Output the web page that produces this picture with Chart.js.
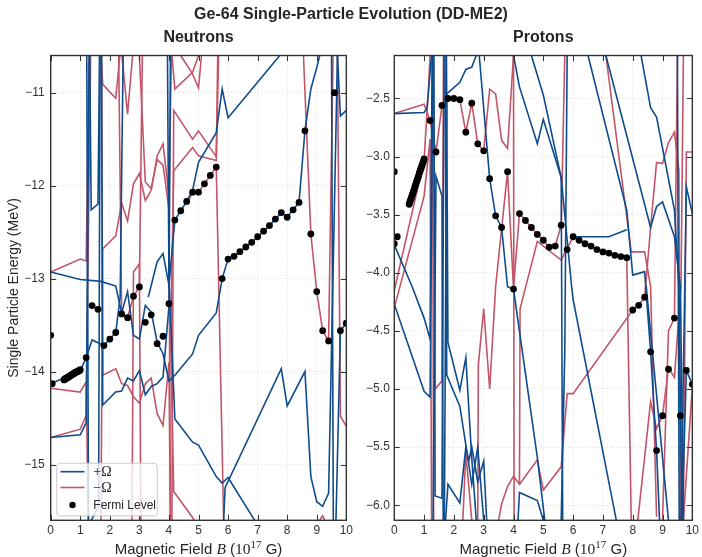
<!DOCTYPE html>
<html>
<head>
<meta charset="utf-8">
<script src="https://cdn.jsdelivr.net/npm/chart.js@4.4.1/dist/chart.umd.min.js"></script>
<style>
  html, body { margin: 0; padding: 0; background: #fff; }
  #wrap { position: relative; width: 702px; height: 557px; overflow: hidden; }
  #suptitle { position: absolute; left: 0; top: 5px; width: 702px; text-align: center;
              font: bold 16px "Liberation Sans", Arial, sans-serif; color: #262626; }
  #cn { position: absolute; left: 0; top: 0; }
  #cp { position: absolute; left: 356px; top: 0; }
</style>
</head>
<body>
<div id="wrap">
  <canvas id="cn" width="356" height="557"></canvas>
  <canvas id="cp" width="346" height="557"></canvas>
  <div id="suptitle">Ge-64 Single-Particle Evolution (DD-ME2)</div>
</div>
<script>
// ---------------- axes ----------------
const bTicks = [0, 1, 2, 3, 4, 5, 6, 7, 8, 9, 10];
const neutronTicks = [-15, -14, -13, -12, -11];
const protonTicks = [-6.0, -5.5, -5.0, -4.5, -4.0, -3.5, -3.0, -2.5];
const neutronRange = [-15.6, -10.6];
const protonRange = [-6.13, -2.13];

// ---------------- Fermi level (MeV) ----------------
const fermiNeutronB = [0, 0.05,
  0.45, 0.475, 0.5, 0.525, 0.55, 0.575, 0.6, 0.625, 0.65, 0.675, 0.7, 0.725, 0.75, 0.775, 0.8,
  0.825, 0.85, 0.875, 0.9, 0.925, 0.95, 0.975, 1.0,
  1.2, 1.4, 1.6, 1.8, 2.0, 2.2, 2.4, 2.6, 2.8, 3.0, 3.2, 3.4, 3.6, 3.8, 4.0, 4.2, 4.4, 4.6, 4.8,
  5.0, 5.2, 5.4, 5.6, 5.8, 6.0, 6.2, 6.4, 6.6, 6.8, 7.0, 7.2, 7.4, 7.6, 7.8, 8.0, 8.2, 8.4, 8.6,
  8.8, 9.0, 9.2, 9.4, 9.6, 9.8, 10.0];
const fermiNeutronE = [-13.61, -14.13,
  -14.09, -14.08, -14.08, -14.07, -14.07, -14.06, -14.06, -14.05, -14.05, -14.04, -14.04, -14.03,
  -14.03, -14.02, -14.02, -14.01, -14.01, -14.00, -14.00, -14.00, -13.99, -13.99, -13.98,
  -13.85, -13.29, -13.33, -13.72, -13.65, -13.58, -13.38, -13.42, -13.19, -13.09, -13.47, -13.39,
  -13.70, -13.62, -13.27, -12.37, -12.27, -12.17, -12.07, -12.07, -11.98, -11.89, -11.80, -13.00,
  -12.79, -12.76, -12.71, -12.66, -12.61, -12.55, -12.49, -12.43, -12.36, -12.29, -12.34, -12.26,
  -12.18, -11.41, -12.52, -13.14, -13.56, -13.67, -11.00, -13.56, -13.48];

const fermiProtonB = [0, 0, 0.1,
  0.5, 0.52, 0.54, 0.56, 0.58, 0.6, 0.62, 0.64, 0.66, 0.68, 0.7, 0.72, 0.74, 0.76, 0.78, 0.8,
  0.82, 0.84, 0.86, 0.88, 0.9, 0.92, 0.94, 0.96, 0.98, 1.0,
  1.2, 1.4, 1.6, 1.8, 2.0, 2.2, 2.4, 2.6, 2.8, 3.0, 3.2, 3.4, 3.6, 3.8, 4.0, 4.2, 4.4, 4.6, 4.8,
  5.0, 5.2, 5.4, 5.6, 5.8, 6.0, 6.2, 6.4, 6.6, 6.8, 7.0, 7.2, 7.4, 7.6, 7.8, 8.0, 8.2, 8.4, 8.6,
  8.8, 9.0, 9.2, 9.4, 9.6, 9.8, 10.0];
const fermiProtonE = [-3.13, -3.75, -3.69,
  -3.41, -3.39, -3.38, -3.36, -3.35, -3.33, -3.32, -3.30, -3.29, -3.27, -3.25, -3.24, -3.22, -3.21,
  -3.19, -3.18, -3.16, -3.14, -3.13, -3.11, -3.10, -3.08, -3.07, -3.05, -3.04, -3.02,
  -2.69, -2.96, -2.56, -2.50, -2.50, -2.51, -2.79, -2.54, -2.89, -2.95, -3.19,
  -3.51, -3.61, -3.13, -4.14, -3.49, -3.55, -3.61, -3.67, -3.72, -3.78, -3.77, -3.59, -3.80, -3.69,
  -3.72, -3.75, -3.77, -3.80, -3.82, -3.83, -3.85, -3.86, -3.87, -4.32, -4.28, -4.21, -4.68, -5.53,
  -5.23, -4.83, -4.39, -5.23, -4.84, -4.96];

// ---------------- neutron levels, +Omega  [B, E] ----------------
const nPlus1 = [[1.22, -10.6], [1.28, -15.6]];
const nPlus2 = [[0, -14.13], [1.0, -13.99], [1.2, -13.85], [1.4, -13.66], [1.8, -13.72], [2.0, -13.65], [2.2, -13.58], [2.35, -13.2], [2.45, -10.6]];
const nPlus3 = [[0, -14.71], [1.0, -14.68], [1.2, -14.55], [1.3, -10.6]];
const nPlus4 = [[1.32, -10.6], [1.37, -12.26], [1.6, -12.2], [1.65, -10.6]];
const nPlus5 = [[1.37, -15.6], [1.62, -15.45], [1.67, -10.6]];
const nPlus6 = [[1.72, -10.6], [1.76, -14.36], [2.2, -14.22], [2.4, -14.21], [2.6, -14.07], [2.8, -14.1], [3.0, -13.99], [3.2, -14.25], [3.4, -14.16], [3.6, -14.13], [3.8, -14.06], [4.0, -13.3], [4.05, -10.6]];
const nPlus7 = [[0, -12.93], [1.0, -13.01], [1.7, -13.03], [2.2, -13.08], [2.4, -13.37], [2.6, -13.14], [2.8, -13.61], [3.0, -13.65], [3.2, -13.29], [3.4, -13.36], [3.6, -13.68], [3.8, -13.81], [4.0, -14.1], [4.2, -14.04], [4.8, -13.81], [5.0, -13.61], [5.6, -13.37], [5.8, -13.00], [6.0, -12.79], [6.2, -12.76], [6.4, -12.71], [6.6, -12.66], [6.8, -12.61], [7.0, -12.55], [7.2, -12.49], [7.4, -12.43], [7.6, -12.36], [7.8, -12.29], [8.0, -12.34], [8.2, -12.26], [8.4, -12.18], [8.6, -11.41], [8.8, -10.96], [9.0, -10.73], [9.1, -10.6]];
const nPlus8 = [[3.3, -13.2], [3.6, -12.82], [3.8, -12.73], [4.0, -13.07], [4.2, -12.37], [4.4, -12.27], [4.6, -12.17], [4.8, -12.05], [5.0, -11.75], [5.6, -11.43], [5.8, -10.96], [6.0, -11.27], [7.75, -10.6]];
const nPlus9 = [[3.95, -10.6], [4.0, -13.0], [4.2, -14.51], [4.8, -14.76], [5.0, -14.79], [5.6, -15.13], [5.8, -15.2], [6.0, -15.14], [6.9, -15.6]];
const nPlus10 = [[5.85, -15.6], [5.9, -15.25], [7.8, -13.97], [8.0, -14.37], [8.6, -14.0], [8.8, -15.13], [9.0, -15.4], [9.2, -15.45], [9.4, -15.31], [9.7, -10.6]];
const nPlus11 = [[9.65, -15.6], [9.8, -13.56], [10.0, -13.48]];
const nPlus12 = [[9.7, -10.6], [9.8, -11.25], [10.0, -11.19]];
const nPlus13 = [[9.5, -10.6], [9.56, -15.6]];

// ---------------- neutron levels, -Omega ----------------
const nMinus1 = [[0, -12.93], [1.0, -12.79], [1.2, -12.81], [1.3, -10.6]];
const nMinus2 = [[0, -14.18], [1.0, -14.22], [1.2, -14.11], [1.27, -15.6]];
const nMinus3 = [[0, -14.71], [1.0, -14.62], [1.2, -14.47], [1.35, -10.6]];
const nMinus4 = [[1.7, -15.6], [1.76, -12.68], [2.2, -12.54], [2.4, -12.19], [2.6, -12.38], [2.8, -11.98], [3.0, -11.87], [3.2, -12.16], [3.4, -12.05], [3.6, -11.68], [3.8, -11.55], [4.0, -12.1], [4.05, -15.6]];
const nMinus5 = [[1.7, -10.6], [1.76, -10.91], [2.2, -11.06], [2.34, -10.6]];
const nMinus6 = [[2.41, -10.6], [2.6, -11.23], [2.77, -10.6]];
const nMinus7 = [[3.0, -10.6], [3.2, -11.96], [3.4, -12.03], [3.6, -11.72], [3.8, -11.78], [4.0, -12.25], [4.08, -10.6]];
const nMinus8 = [[4.1, -10.6], [4.2, -10.96], [4.8, -10.78], [5.0, -10.6]];
const nMinus9 = [[4.1, -15.6], [4.16, -11.19], [4.8, -11.5], [5.0, -11.41], [5.6, -11.69], [5.65, -10.6]];
const nMinus10 = [[4.6, -12.2], [4.8, -12.07], [5.0, -12.07], [5.2, -11.98], [5.4, -11.89], [5.6, -11.80], [5.85, -15.6]];
const nMinus11 = [[4.05, -13.8], [4.16, -11.84], [4.8, -11.59], [5.0, -11.68], [5.6, -11.73], [5.68, -10.6]];
const nMinus12 = [[4.4, -10.6], [4.8, -10.8], [5.0, -10.95], [5.1, -10.6]];
const nMinus13 = [[4.05, -13.5], [4.16, -15.29], [4.8, -15.57], [4.85, -15.6]];
const nMinus14 = [[8.55, -10.6], [8.8, -12.52], [9.0, -13.14], [9.2, -13.56], [9.4, -13.67], [9.55, -10.6]];
const nMinus15 = [[9.7, -10.6], [9.8, -14.48], [10.0, -14.59]];
const nMinus16 = [[1.72, -10.6], [1.76, -14.04], [2.2, -13.97], [2.4, -14.13], [2.6, -14.15], [2.8, -14.27], [3.0, -14.34], [3.2, -14.13], [3.4, -14.07], [3.6, -14.45], [3.8, -14.58], [4.0, -13.9], [4.05, -15.6]];
const nMinus17 = [[2.3, -10.6], [2.4, -13.38], [2.6, -13.42], [2.8, -13.19], [3.0, -13.09], [3.1, -10.6]];
const nMinus18 = [[2.75, -15.6], [2.8, -12.93], [3.0, -12.84], [3.05, -15.6]];
const nMinus19 = [[9.1, -15.6], [9.2, -15.55], [9.27, -15.6]];

// ---------------- proton levels, +Omega ----------------
const pPlus1 = [[0, -2.63], [1.0, -2.62], [1.1, -2.58], [1.25, -2.13]];
const pPlus2 = [[0, -3.76], [0.6, -4.12], [1.0, -4.39], [1.2, -4.57], [1.27, -2.13]];
const pPlus3 = [[0, -4.27], [1.0, -5.02], [1.2, -5.07], [1.3, -2.13]];
const pPlus4 = [[1.33, -2.13], [1.37, -5.92], [1.6, -5.94], [1.67, -2.13]];
const pPlus5 = [[1.7, -2.13], [1.76, -4.88], [2.2, -5.15], [2.4, -5.48], [2.6, -5.82], [2.8, -5.5], [3.0, -6.13]];
const pPlus6 = [[1.72, -6.13], [1.8, -5.82], [2.2, -5.98], [2.4, -5.5], [2.5, -5.62], [2.6, -5.5], [2.8, -5.8], [3.0, -5.62], [3.1, -6.13]];
const pPlus7 = [[1.75, -2.13], [1.8, -4.6], [2.2, -5.01], [2.4, -4.73], [2.6, -5.6], [2.75, -6.13]];
const pPlus8 = [[1.68, -6.13], [1.76, -2.46], [2.2, -2.36], [2.4, -2.25], [2.6, -2.23], [2.75, -2.13]];
const pPlus9 = [[2.85, -2.13], [3.2, -3.19], [3.4, -3.51], [3.6, -3.61], [3.8, -4.12], [4.0, -4.14], [4.8, -5.59], [5.05, -6.13]];
const pPlus10 = [[1.3, -6.13], [1.4, -3.17], [1.6, -3.34], [1.64, -6.13]];
const pPlus11 = [[4.0, -2.13], [4.2, -2.4], [4.8, -2.89], [5.0, -2.68], [5.6, -3.18], [5.95, -4.12], [6.0, -4.23], [7.45, -6.13]];
const pPlus12 = [[4.6, -2.13], [5.0, -2.47], [5.6, -3.18], [5.65, -6.13]];
const pPlus13 = [[5.6, -6.13], [5.72, -4.68], [5.8, -2.13]];
const pPlus14 = [[6.0, -3.69], [6.6, -3.69], [7.2, -3.69], [7.8, -3.63]];
const pPlus15 = [[6.5, -2.13], [7.8, -3.46], [8.0, -4.02], [8.4, -3.99], [8.6, -4.68], [8.8, -5.53], [8.9, -6.13]];
const pPlus16 = [[7.1, -2.13], [8.6, -3.61], [8.8, -3.43], [9.0, -3.39], [9.4, -3.69], [9.6, -4.12], [9.7, -6.13]];
const pPlus17 = [[8.28, -2.13], [8.6, -2.58], [8.8, -2.66], [9.4, -3.46], [9.55, -4.12], [9.65, -6.13]];
const pPlus18 = [[9.62, -6.13], [9.8, -3.26], [10.0, -3.49]];
const pPlus19 = [[9.65, -6.13], [9.8, -4.84], [10.0, -4.96]];
const pPlus20 = [[9.5, -2.13], [9.56, -6.13]];
const pPlus21 = [[4.15, -6.13], [4.2, -5.89], [4.8, -5.96], [5.0, -6.13]];
const pPlus22 = [[8.45, -4.11], [9.2, -6.13]];

// ---------------- proton levels, -Omega ----------------
const pMinus1 = [[0, -2.63], [1.0, -2.55], [1.2, -2.69], [1.4, -2.96], [1.6, -2.56], [1.8, -2.50], [2.0, -2.50], [2.2, -2.51], [2.4, -2.79], [2.6, -2.54], [2.8, -2.89], [3.0, -2.95], [3.2, -2.42], [3.4, -2.46], [3.6, -2.86], [3.8, -2.93], [4.0, -2.13]];
const pMinus2 = [[0, -4.15], [1.0, -3.03], [1.15, -2.4], [1.2, -2.13]];
const pMinus3 = [[0, -4.3], [1.0, -3.34], [1.2, -2.85], [1.25, -6.13]];
const pMinus4 = [[1.28, -2.13], [1.32, -6.13]];
const pMinus5 = [[1.3, -2.13], [1.37, -5.0], [1.6, -4.93], [1.65, -2.13]];
const pMinus6 = [[2.8, -6.13], [2.82, -4.79], [3.0, -4.31], [3.2, -5.0], [3.4, -4.12], [3.8, -3.13], [4.0, -4.14], [4.2, -3.49], [4.4, -3.55], [4.6, -3.61], [4.8, -3.67], [5.0, -3.72], [5.2, -3.78], [5.4, -3.77], [5.6, -3.59], [5.72, -2.13]];
const pMinus7 = [[2.3, -6.13], [2.4, -5.55], [2.6, -6.13]];
const pMinus8 = [[3.5, -6.13], [3.6, -5.99], [3.8, -5.84], [4.0, -5.75], [4.2, -5.82], [4.8, -5.61], [5.0, -5.87], [5.6, -5.67], [5.8, -5.04], [6.0, -5.04], [8.0, -4.32], [8.2, -4.28], [8.4, -4.21], [8.6, -3.61], [8.8, -3.05], [9.0, -3.06], [9.2, -2.88], [9.4, -2.79], [9.55, -3.12], [9.6, -6.13]];
const pMinus9 = [[9.7, -6.13], [9.8, -2.96], [10.0, -2.96]];
const pMinus10 = [[4.2, -5.82], [4.22, -4.31], [4.8, -3.73], [5.6, -3.89], [6.0, -3.69], [6.2, -3.72], [6.4, -3.75], [6.6, -3.77], [6.8, -3.80], [7.0, -3.82], [7.2, -3.83], [7.4, -3.85], [7.6, -3.86], [7.8, -3.87], [7.95, -6.13]];
const pMinus11 = [[7.1, -2.13], [7.95, -3.82], [8.4, -3.82], [8.6, -4.12], [8.8, -6.1]];
const pMinus12 = [[8.17, -6.13], [8.6, -5.11], [8.8, -5.34], [9.0, -5.23], [9.2, -4.82], [9.4, -4.9], [9.62, -4.11], [9.7, -2.13]];
const pMinus13 = [[9.0, -6.13], [9.2, -4.5], [9.4, -4.39], [9.5, -2.13]];
const pMinus14 = [[9.7, -6.13], [10.0, -4.98]];
const pMinus15 = [[4.0, -2.13], [4.02, -6.13]];

const neutronPlus = [nPlus1, nPlus2, nPlus3, nPlus4, nPlus5, nPlus6, nPlus7, nPlus8, nPlus9, nPlus10, nPlus11, nPlus12, nPlus13];
const neutronMinus = [nMinus1, nMinus2, nMinus3, nMinus4, nMinus5, nMinus6, nMinus7, nMinus8, nMinus9, nMinus10, nMinus11, nMinus12, nMinus13, nMinus14, nMinus15, nMinus16, nMinus17, nMinus18, nMinus19];
const protonPlus = [pPlus1, pPlus2, pPlus3, pPlus4, pPlus5, pPlus6, pPlus7, pPlus8, pPlus9, pPlus10, pPlus11, pPlus12, pPlus13, pPlus14, pPlus15, pPlus16, pPlus17, pPlus18, pPlus19, pPlus20, pPlus21, pPlus22];
const protonMinus = [pMinus1, pMinus2, pMinus3, pMinus4, pMinus5, pMinus6, pMinus7, pMinus8, pMinus9, pMinus10, pMinus11, pMinus12, pMinus13, pMinus14, pMinus15];

// ---------------- styling ----------------
const SANS = '"Liberation Sans", Arial, Helvetica, sans-serif';
const SERIF = '"Liberation Serif", "Times New Roman", serif';
const INK = '#262626';
const BLUE = '#0f4c8c';
const RED = '#c25569';

function levelSet(points, color, order) {
  return {
    data: points.map(([b, e]) => ({ x: b, y: e })),
    borderColor: color, borderWidth: 1.6, pointRadius: 0, tension: 0, fill: false, order
  };
}
function fermiSet(bs, es) {
  return {
    data: bs.map((b, i) => ({ x: b, y: es[i] })),
    showLine: false, pointRadius: 3.4, pointHoverRadius: 3.4,
    pointBackgroundColor: '#000', pointBorderColor: '#000', pointBorderWidth: 0, order: 0
  };
}

// frame, inward tick marks and the x-axis title with math parts
const framePlugin = {
  id: 'frame',
  afterDraw(chart) {
    const { ctx, chartArea: a, scales: { x, y } } = chart;
    ctx.save();
    ctx.strokeStyle = '#333';
    ctx.lineWidth = 1;
    const L = 5.5;
    ctx.beginPath();
    x.ticks.forEach(t => {
      const px = Math.round(x.getPixelForValue(t.value)) + 0.5;
      ctx.moveTo(px, a.bottom); ctx.lineTo(px, a.bottom - L);
      ctx.moveTo(px, a.top); ctx.lineTo(px, a.top + L);
    });
    y.ticks.forEach(t => {
      const py = Math.round(y.getPixelForValue(t.value)) + 0.5;
      ctx.moveTo(a.left, py); ctx.lineTo(a.left + L, py);
      ctx.moveTo(a.right, py); ctx.lineTo(a.right - L, py);
    });
    ctx.stroke();
    ctx.lineWidth = 1.4;
    ctx.strokeRect(a.left, a.top, a.right - a.left, a.bottom - a.top);

    // "Magnetic Field B (10^17 G)"
    const parts = [
      { t: 'Magnetic Field ', f: `15px ${SANS}`, dy: 0 },
      { t: 'B', f: `italic 15.5px ${SERIF}`, dy: 0 },
      { t: ' (', f: `15px ${SANS}`, dy: 0 },
      { t: '10', f: `15.5px ${SERIF}`, dy: 0 },
      { t: '17', f: `11px ${SERIF}`, dy: -6 },
      { t: ' G)', f: `15px ${SANS}`, dy: 0 }
    ];
    let w = 0;
    parts.forEach(p => { ctx.font = p.f; p.w = ctx.measureText(p.t).width; w += p.w; });
    let cx = (a.left + a.right) / 2 - w / 2;
    const base = 554;
    ctx.fillStyle = INK;
    ctx.textBaseline = 'alphabetic';
    ctx.textAlign = 'left';
    parts.forEach(p => { ctx.font = p.f; ctx.fillText(p.t, cx, base + p.dy); cx += p.w; });
    ctx.restore();
  }
};

const legendPlugin = {
  id: 'levelLegend',
  afterDraw(chart) {
    const ctx = chart.ctx;
    ctx.save();
    const x0 = 56.7, y0 = 463.3, w = 100.6, h = 52.5, r = 3;
    ctx.beginPath();
    ctx.moveTo(x0 + r, y0);
    ctx.arcTo(x0 + w, y0, x0 + w, y0 + h, r);
    ctx.arcTo(x0 + w, y0 + h, x0, y0 + h, r);
    ctx.arcTo(x0, y0 + h, x0, y0, r);
    ctx.arcTo(x0, y0, x0 + w, y0, r);
    ctx.closePath();
    ctx.fillStyle = 'rgba(255,255,255,0.8)';
    ctx.fill();
    ctx.strokeStyle = '#cccccc';
    ctx.lineWidth = 1;
    ctx.stroke();

    ctx.lineWidth = 1.6;
    ctx.strokeStyle = BLUE;
    ctx.beginPath(); ctx.moveTo(60.5, 471.7); ctx.lineTo(84.5, 471.7); ctx.stroke();
    ctx.strokeStyle = RED;
    ctx.beginPath(); ctx.moveTo(60.5, 487.5); ctx.lineTo(84.5, 487.5); ctx.stroke();
    ctx.fillStyle = '#000';
    ctx.beginPath(); ctx.arc(72.5, 505, 3.2, 0, Math.PI * 2); ctx.fill();

    ctx.fillStyle = INK;
    ctx.textBaseline = 'middle';
    ctx.textAlign = 'left';
    ctx.font = `14px ${SERIF}`;
    ctx.fillText('+\u03A9', 93.3, 472);
    ctx.fillText('\u2212\u03A9', 93.3, 488);
    ctx.font = `12px ${SANS}`;
    ctx.fillText('Fermi Level', 93.3, 505.5);
    ctx.restore();
  }
};

function fmt(v, decimals) {
  const s = Math.abs(v).toFixed(decimals);
  return (v < 0 ? '\u2212' : '') + s;
}

function makeChart(canvasId, opts) {
  const datasets = [fermiSet(opts.fermiB, opts.fermiE)];
  opts.plus.forEach(p => datasets.push(levelSet(p, BLUE, 1)));
  opts.minus.forEach(p => datasets.push(levelSet(p, RED, 2)));
  const plugins = [framePlugin];
  if (opts.legend) plugins.push(legendPlugin);
  return new Chart(document.getElementById(canvasId), {
    type: 'line',
    data: { datasets },
    plugins,
    options: {
      responsive: false,
      animation: false,
      devicePixelRatio: 1,
      events: [],
      layout: { padding: { left: 0, right: opts.padRight, top: 0, bottom: 0 } },
      plugins: {
        legend: { display: false },
        tooltip: { enabled: false },
        title: {
          display: true, text: opts.title, fullSize: false, color: INK,
          font: { family: SANS, size: 16, weight: 'bold', lineHeight: 1.2 },
          padding: { top: 28.4, bottom: 7.9 }
        }
      },
      scales: {
        x: {
          type: 'linear', min: 0, max: 10,
          afterBuildTicks: s => { s.ticks = bTicks.map(v => ({ value: v })); },
          afterFit: s => { s.height = 36.7; },
          grid: { color: '#d6d6d6', lineWidth: 0.8, drawTicks: false },
          border: { display: false, dash: [1, 2] },
          ticks: { color: '#333', padding: 3, font: { family: SANS, size: 12 }, callback: v => fmt(v, 0) }
        },
        y: {
          type: 'linear', min: opts.range[0], max: opts.range[1],
          afterBuildTicks: s => { s.ticks = opts.ticks.map(v => ({ value: v })); },
          afterFit: s => { s.width = opts.yWidth; },
          grid: { color: '#d6d6d6', lineWidth: 0.8, drawTicks: false },
          border: { display: false, dash: [1, 2] },
          ticks: { color: '#333', padding: opts.tickPad, font: { family: SANS, size: 12 }, callback: v => fmt(v, opts.decimals) },
          title: opts.yTitle ? {
            display: true, text: opts.yTitle, color: INK,
            font: { family: SANS, size: 14 }, padding: { top: 5.5, bottom: 0 }
          } : { display: false }
        }
      }
    }
  });
}

makeChart('cn', {
  title: 'Neutrons', fermiB: fermiNeutronB, fermiE: fermiNeutronE,
  plus: neutronPlus, minus: neutronMinus, range: neutronRange, ticks: neutronTicks,
  decimals: 0, yWidth: 50.7, padRight: 6.7, tickPad: 6, legend: true,
  yTitle: 'Single Particle Energy (MeV)'
});
makeChart('cp', {
  title: 'Protons', fermiB: fermiProtonB, fermiE: fermiProtonE,
  plus: protonPlus, minus: protonMinus, range: protonRange, ticks: protonTicks,
  decimals: 1, yWidth: 38.3, padRight: 8.7, tickPad: 4.5, legend: false, yTitle: null
});
</script>
</body>
</html>
